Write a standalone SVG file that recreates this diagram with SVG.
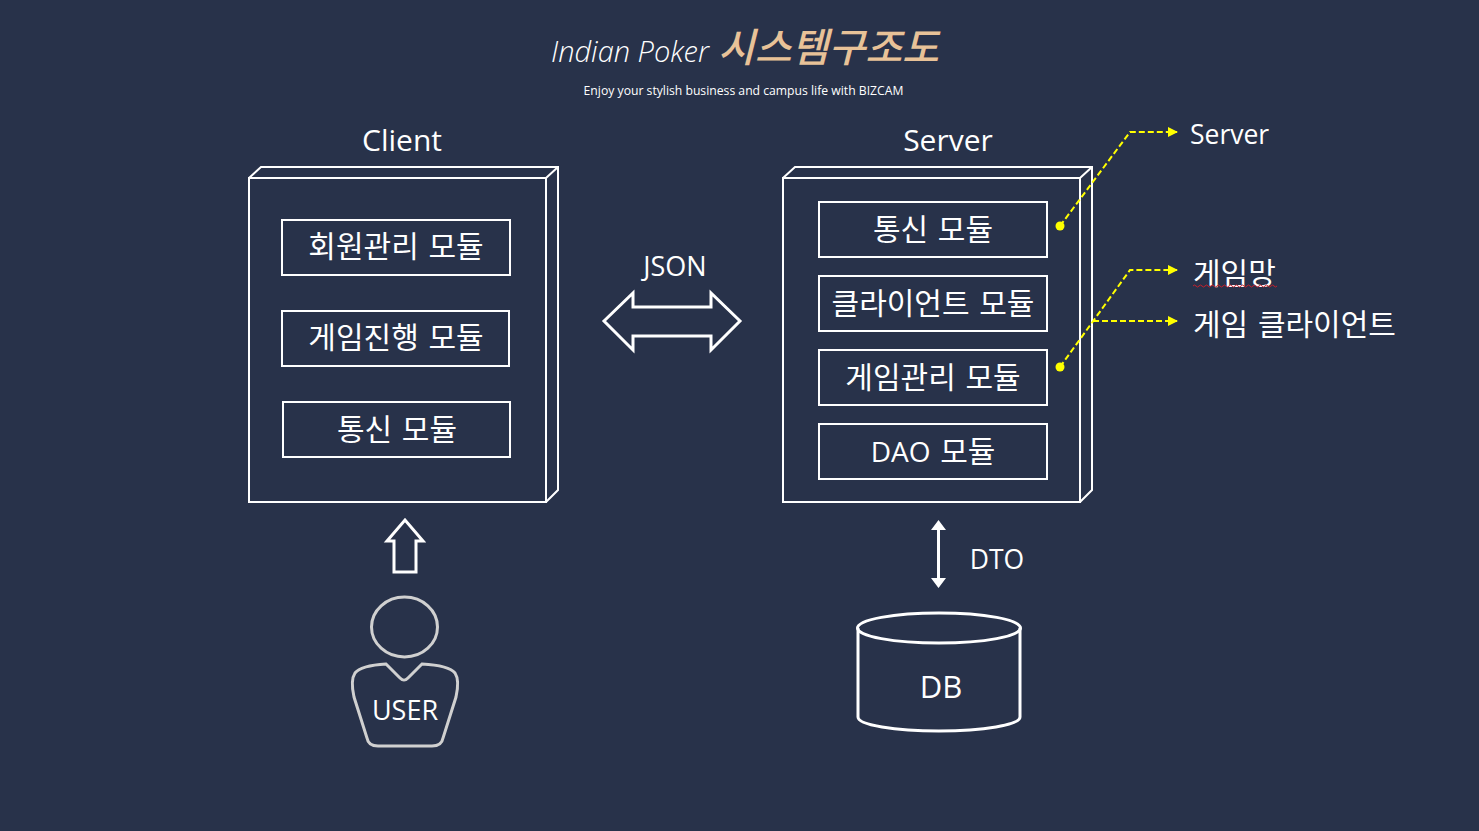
<svg xmlns="http://www.w3.org/2000/svg" width="1479" height="831" viewBox="0 0 1479 831">
<style>
text{font-family:"Open Sans","Noto Sans CJK KR",sans-serif;fill:#fff;font-weight:400}
.k{font-family:"Noto Sans CJK KR","Noto Sans",sans-serif;font-weight:400}
.m{font-size:30px;text-anchor:middle;word-spacing:3px}
.l{font-weight:300}
.b{fill:none;stroke:#fff;stroke-width:2}
.t{fill:none;stroke:#fff;stroke-width:3}
.y{fill:none;stroke:#ff0;stroke-width:2;stroke-dasharray:6 3}
</style>
<defs>
<marker id="ya" markerUnits="userSpaceOnUse" markerWidth="10" markerHeight="10" refX="9" refY="5" orient="auto"><path d="M0 0L10 5L0 10Z" fill="#ff0"/></marker>
</defs>
<rect width="1479" height="831" fill="#28324a"/>
<g id="title">
<text class="l" x="551" y="62" font-size="29" font-style="italic">Indian Poker</text>
<text class="k" x="718" y="62" font-size="40" font-style="italic" style="fill:#e8c298;font-weight:500">시스템구조도</text>
<text x="743.500" y="95" font-size="12.200" text-anchor="middle">Enjoy your stylish business and campus life with BIZCAM</text>
</g>
<g id="client">
<path class="b" d="M249 178H546V502H249ZM249 178L261 167H558V490L546 502M546 178L558 167"/>
<text x="402" y="151" font-size="30" text-anchor="middle">Client</text>
</g>
<g id="c1"><rect class="b" x="282" y="220" width="228" height="55"/><text class="k m" x="396" y="257">회원관리 모듈</text></g>
<g id="c2"><rect class="b" x="282" y="311" width="227" height="55"/><text class="k m" x="396" y="348">게임진행 모듈</text></g>
<g id="c3"><rect class="b" x="283" y="402" width="227" height="55"/><text class="k m" x="397" y="440">통신 모듈</text></g>
<g id="server">
<path class="b" d="M783 178H1080V502H783ZM783 178L795 167H1092V490L1080 502M1080 178L1092 167"/>
<text x="948" y="151" font-size="30" text-anchor="middle">Server</text>
</g>
<g id="s1"><rect class="b" x="819" y="202" width="228" height="55"/><text class="k m" x="933" y="240">통신 모듈</text></g>
<g id="s2"><rect class="b" x="819" y="276" width="228" height="55"/><text class="k m" x="933" y="314">클라이언트 모듈</text></g>
<g id="s3"><rect class="b" x="819" y="350" width="228" height="55"/><text class="k m" x="933" y="388">게임관리 모듈</text></g>
<g id="s4"><rect class="b" x="819" y="424" width="228" height="55"/><text class="k m" x="933" y="462"><tspan style="font-family:'Open Sans',sans-serif" font-size="28">DAO</tspan> 모듈</text></g>
<g id="json">
<text x="675" y="276" font-size="27" text-anchor="middle">JSON</text>
</g>
<g id="dto"><text x="997" y="569" font-size="26.500" text-anchor="middle">DTO</text></g>
<g id="user">
<ellipse cx="404.500" cy="627" rx="33" ry="30" fill="none" stroke="#d0d0d0" stroke-width="3"/>
<path d="M386 664C370 665 359 668 355 673C351 679 352 688 354 697L367 738C368 744 372 746 378 746H432C438 746 442 744 443 738L456 697C458 688 459 679 455 673C451 668 440 665 422 664L408 678C405 681 403 681 400 678Z" fill="none" stroke="#d0d0d0" stroke-width="3"/>
<text x="405" y="720" font-size="27" text-anchor="middle">USER</text>
</g>
<g id="db">
<path class="t" d="M858 628V717C858 725 895 731 939 731S1020 725 1020 717V628"/>
<ellipse class="t" cx="939" cy="628" rx="81.500" ry="15"/>
<text x="941" y="698" font-size="31" text-anchor="middle">DB</text>
</g>
<g id="labels">
<text x="1190" y="144" font-size="26.500">Server</text>
<text class="k" x="1193" y="284" font-size="30">게임망</text>
<text class="k" x="1193" y="335" font-size="30" word-spacing="3">게임 클라이언트</text>
<path d="M1193 286q1.500 -2 3 0t3 0t3 0t3 0t3 0t3 0t3 0t3 0t3 0t3 0t3 0t3 0t3 0t3 0t3 0t3 0t3 0t3 0t3 0t3 0t3 0t3 0t3 0t3 0t3 0t3 0t3 0t3 0" fill="none" stroke="#c8202c" stroke-width="1"/>
</g>
<g id="connectors">
<path class="t" d="M604 321L633 293V307H711V293L740 321L711 350V336H633V350Z"/>
<path class="t" d="M394 572V541H387L405 520L423 541H416V572Z"/>
<path d="M938.500 530V578" stroke="#fff" stroke-width="3"/>
<path d="M938.500 520L946 530H931ZM938.500 588L946 578H931Z" fill="#fff"/>
<path class="y" d="M1060 226L1130 132H1177" marker-end="url(#ya)"/>
<circle cx="1060" cy="226" r="4.500" fill="#ff0"/>
<path class="y" d="M1060 367L1130 270H1177" marker-end="url(#ya)"/>
<circle cx="1060" cy="367" r="4.500" fill="#ff0"/>
<path class="y" d="M1093 321H1177" marker-end="url(#ya)"/>
</g>
</svg>
